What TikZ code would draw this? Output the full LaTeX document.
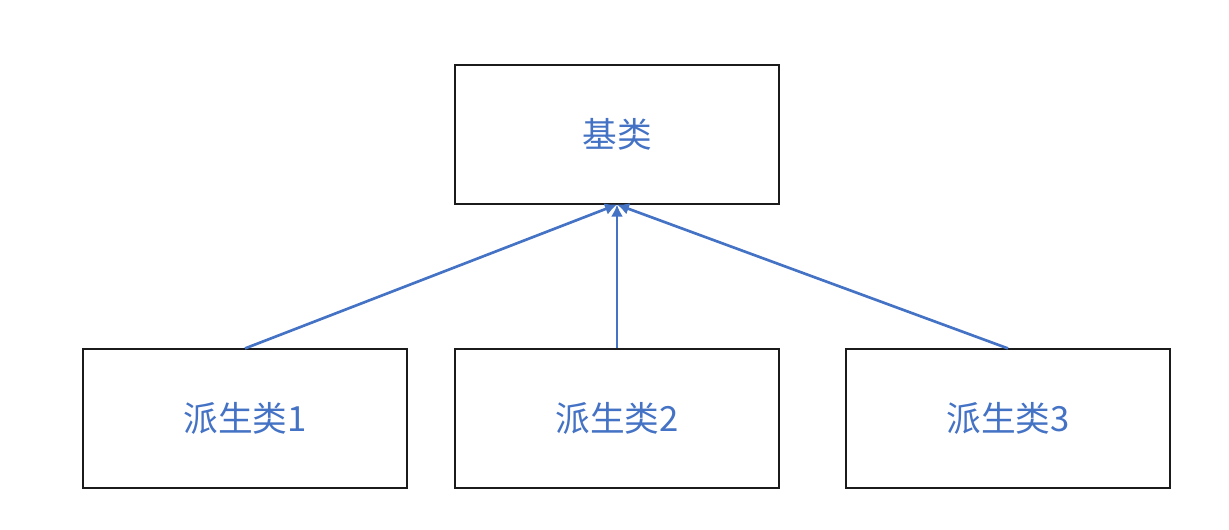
\documentclass[tikz,border=0pt]{standalone}
\usepackage{fontspec}
\setmainfont{Noto Sans CJK SC}
\usetikzlibrary{arrows.meta}
\definecolor{CBlue}{HTML}{4472C4}
\definecolor{CInk}{HTML}{1B1B1B}

\begin{document}
\begin{tikzpicture}[x=0.75pt, y=-0.75pt,
  every node/.style={font=\fontsize{26}{31}\selectfont, text=CBlue},
  cls/.style={draw=CInk, fill=white, line width=1.1pt,
              minimum width=243pt, minimum height=104pt, inner sep=0pt},
  arrow/.style={-{Latex[length=9pt, width=9pt]}, draw=CBlue, line width=2pt}]
\useasboundingbox (0,0) rectangle (1229,529);
\node[cls] (base) at (617,134.5) {基类};
\node[cls] (d1)   at (245,418.5) {派生类1};
\node[cls] (d2)   at (617,418.5) {派生类2};
\node[cls] (d3)   at (1008,418.5){派生类3};
\foreach \c in {d1,d2,d3} {\draw[arrow] (\c.north) -- (base.south);}
\end{tikzpicture}
\end{document}
